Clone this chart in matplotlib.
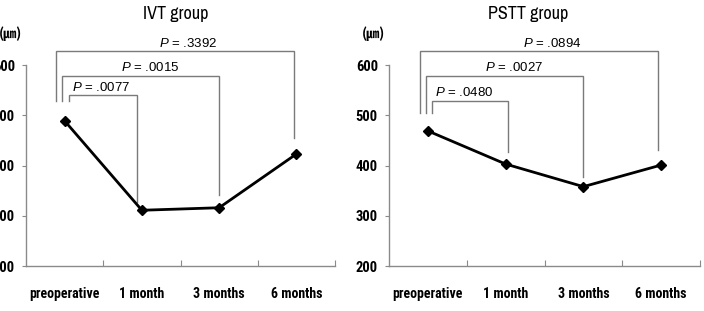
import matplotlib
matplotlib.use("Agg")
import matplotlib.pyplot as plt
from matplotlib import font_manager

categories = ["preoperative", "1 month", "3 months", "6 months"]
titles = ["IVT group", "PSTT group"]
ivt_values = [489, 311, 316, 423]
pstt_values = [469, 403, 358, 401]
y_ticks = [200, 300, 400, 500, 600]

# comparison brackets: (from category, to category, p value text)
ivt_pairs = [(0, 1, ".0077"), (0, 2, ".0015"), (0, 3, ".3392")]
pstt_pairs = [(0, 1, ".0480"), (0, 2, ".0027"), (0, 3, ".0894")]

# bracket layout (offsets / heights in data units)
ivt_layout = [  # (x start offset, x end offset, top, left bottom, right bottom)
    (0.06, -0.06, 540, 528, 328),
    (-0.03, 0.0, 579, 528, 341),
    (-0.11, -0.03, 628, 528, 455),
]
pstt_layout = [
    (0.057, 0.027, 529, 504, 427),
    (-0.024, 0.0, 579, 504, 378),
    (-0.10, -0.044, 628, 504, 431),
]
text_x = [0.095, 0.73, 1.22]

fl = font_manager.fontManager.ttflist
names = {f.name for f in fl}
bold_names = {f.name for f in fl if (f.weight in ("bold", 700) or
              (isinstance(f.weight, int) and f.weight >= 700))}
cands = ["Liberation Sans Narrow", "Archivo Narrow", "Roboto Condensed", "Arimo"]
narrow = next((c for c in cands if c in names), "DejaVu Sans")
narrow_bold = next((c for c in cands if c in bold_names), narrow)
plain = "Liberation Sans" if "Liberation Sans" in names else "DejaVu Sans"
plt.rcParams["mathtext.fontset"] = "custom"
plt.rcParams["mathtext.it"] = plain + ":italic"
plt.rcParams["mathtext.rm"] = plain

fig = plt.figure(figsize=(7.04, 3.11), dpi=100)
axes_rects = [[26 / 704, 1 - 266 / 311, 309 / 704, 226 / 311],
              [389 / 704, 1 - 266 / 311, 311 / 704, 226 / 311]]
title_x = [176 / 704, 528 / 704]
spine_col = "#8a8a8a"
br_col = "#7a7a7a"

for i, (vals, pairs, layout) in enumerate([(ivt_values, ivt_pairs, ivt_layout),
                                           (pstt_values, pstt_pairs, pstt_layout)]):
    ax = fig.add_axes(axes_rects[i])
    x = list(range(len(categories)))
    ax.plot(x, vals, color="black", lw=2.0, marker="D", ms=5.5, zorder=5)
    ax.set_xlim(-0.5, 3.5)
    ax.set_ylim(200, 650)
    for s in ["top", "right"]:
        ax.spines[s].set_visible(False)
    for s in ["left", "bottom"]:
        ax.spines[s].set_color(spine_col)
        ax.spines[s].set_linewidth(1.0)
    ax.spines["left"].set_bounds(200, 600)
    ax.set_yticks(y_ticks)
    ax.set_yticklabels([str(t) for t in y_ticks], fontfamily=narrow_bold,
                       fontweight="bold", fontsize=10.5)
    ax.tick_params(axis="y", direction="out", length=3, color=spine_col, pad=5)
    ax.set_xticks([0.5, 1.5, 2.5, 3.5])
    ax.set_xticklabels([])
    ax.tick_params(axis="x", which="major", direction="in", length=4, color=spine_col)
    ax.set_xticks(x, minor=True)
    ax.set_xticklabels(categories, minor=True, fontfamily=narrow_bold,
                       fontweight="bold", fontsize=10)
    ax.tick_params(axis="x", which="minor", length=0, pad=15)

    for (a, b, pv), (o1, o2, top, lb, rb), tx in zip(pairs, layout, text_x):
        xa, xb = a + o1, b + o2
        ax.plot([xa, xa, xb, xb], [lb, top, top, rb], color=br_col, lw=1.0,
                zorder=3, solid_joinstyle="miter")
        ax.text(tx, top + 3, r"$P$ = " + pv, ha="left", va="bottom", fontsize=9.5,
                fontfamily=plain, color="black")

    fig.text(title_x[i], 1 - 14 / 311, titles[i], ha="center", va="center",
             fontsize=13, fontfamily=narrow)
    ax_left_px = axes_rects[i][0] * 704
    fig.text((ax_left_px - 4) / 704, 1 - 34 / 311, "(\u339b)", ha="right",
             va="center", fontsize=9.5, fontweight="bold",
             family=["Noto Sans CJK JP", "DejaVu Sans"])

fig.savefig("out.png", dpi=100)
